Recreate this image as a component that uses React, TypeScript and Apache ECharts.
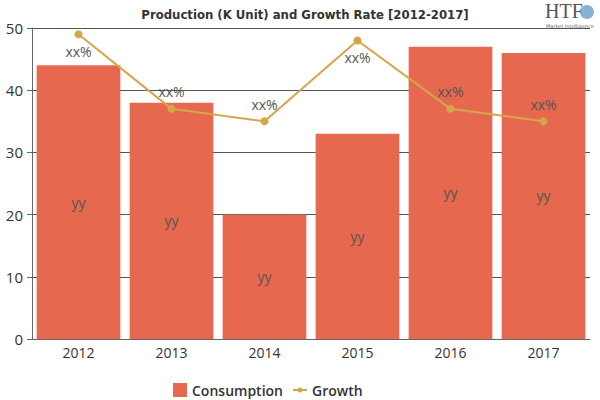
import React, { useEffect, useRef } from "react";
import * as echarts from "echarts";

const categories = ["2012", "2013", "2014", "2015", "2016", "2017"];
const consumption = [44, 38, 20, 33, 47, 46];
const growth = [49, 37, 35, 48, 37, 35];
const growthLabelPos = ["bottom", "top", "top", "bottom", "top", "top"];
const barLabel = "yy";
const lineLabel = "xx%";

export default function App() {
  const ref = useRef<HTMLDivElement>(null);
  useEffect(() => {
    if (!ref.current) return;
    const chart = echarts.init(ref.current, null, { renderer: "svg" });
    chart.setOption({
      animation: false,
      title: {
        text: "Production (K Unit) and Growth Rate [2012-2017]",
        left: 300,
        textAlign: "center",
        top: 3,
        textStyle: {
          fontFamily: "DejaVu Sans Condensed",
          fontWeight: "bold",
          fontSize: 13,
          color: "#333",
        },
      },
      graphic: [
        {
          type: "text",
          left: 545,
          top: 1,
          style: { text: "HTF", font: "20px 'Liberation Serif'", fill: "#555" },
        },
        {
          type: "circle",
          shape: { cx: 587, cy: 12, r: 7 },
          style: { fill: "#5b8fc0", opacity: 0.7 },
        },
        {
          type: "text",
          left: 546,
          top: 23,
          style: { text: "Market Intelligence", font: "5px 'DejaVu Sans'", fill: "#666" },
        },
      ],
      legend: {
        left: 168,
        top: 378,
        itemWidth: 14,
        itemHeight: 14,
        itemGap: 10,
        textStyle: { fontFamily: "Open Sans", fontSize: 14, fontWeight: 600, color: "#333" },
        data: [
          { name: "Consumption", icon: "rect" },
          {
            name: "Growth",
            icon: "path://M0,6 L14,6 L14,8 L0,8 Z M9.5,7 A2.5,2.5 0 1 1 4.5,7 A2.5,2.5 0 1 1 9.5,7 Z",
          },
        ],
      },
      grid: { left: 32, right: 10, top: 28, bottom: 61 },
      xAxis: {
        type: "category",
        data: categories,
        axisLine: { lineStyle: { color: "#666" } },
        axisTick: { alignWithLabel: true, lineStyle: { color: "#666" } },
        axisLabel: { fontFamily: "Open Sans", fontSize: 14, color: "#333", margin: 6 },
      },
      yAxis: {
        type: "value",
        min: 0,
        max: 50,
        interval: 10,
        axisLine: { show: true, lineStyle: { color: "#666" } },
        axisTick: { show: true, length: 5, lineStyle: { color: "#666" } },
        axisLabel: { fontFamily: "Open Sans", fontSize: 15, color: "#333", margin: 9 },
        splitLine: { lineStyle: { color: "#555", width: 1 } },
      },
      series: [
        {
          name: "Consumption",
          type: "bar",
          data: consumption,
          barCategoryGap: "10%",
          itemStyle: { color: "#E6694F" },
          label: {
            show: true,
            position: "inside",
            formatter: barLabel,
            fontFamily: "Open Sans",
            fontSize: 14,
            color: "#555",
          },
        },
        {
          name: "Growth",
          type: "line",
          data: growth.map((v, i) => ({
            value: v,
            label: { position: growthLabelPos[i] },
          })),
          symbol: "circle",
          symbolSize: 8,
          itemStyle: { color: "#D4A64A" },
          lineStyle: { color: "#D4A64A", width: 2 },
          label: {
            show: true,
            formatter: lineLabel,
            fontFamily: "Open Sans",
            fontSize: 14,
            color: "#555",
            distance: 6,
          },
        },
      ],
    });
    return () => chart.dispose();
  }, []);
  return (
    <div
      ref={ref}
      style={{ position: "absolute", left: 0, top: 0, width: 600, height: 400 }}
    />
  );
}
